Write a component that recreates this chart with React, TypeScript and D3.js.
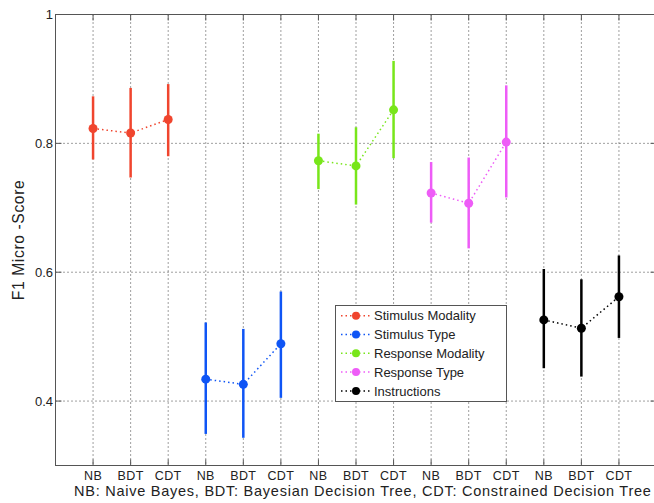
import React from "react";
import * as d3 from "d3";

const methods = ["NB", "BDT", "CDT"];
const seriesNames = ["Stimulus Modality", "Stimulus Type", "Response Modality", "Response Type", "Instructions"];
const seriesColors = ["#f0452e", "#0f55f5", "#78e61a", "#ee5cf7", "#000000"];
// mean, lower, upper for NB, BDT, CDT
const stimModMean = [0.823, 0.816, 0.837];
const stimModLow = [0.775, 0.747, 0.780];
const stimModHigh = [0.873, 0.886, 0.892];
const stimTypeMean = [0.434, 0.426, 0.489];
const stimTypeLow = [0.349, 0.343, 0.405];
const stimTypeHigh = [0.522, 0.512, 0.570];
const respModMean = [0.773, 0.765, 0.852];
const respModLow = [0.729, 0.705, 0.777];
const respModHigh = [0.815, 0.825, 0.928];
const respTypeMean = [0.723, 0.707, 0.802];
const respTypeLow = [0.677, 0.637, 0.716];
const respTypeHigh = [0.771, 0.778, 0.890];
const instrMean = [0.526, 0.513, 0.562];
const instrLow = [0.451, 0.438, 0.498];
const instrHigh = [0.605, 0.589, 0.626];
const yTicks = [0.4, 0.6, 0.8, 1];
const xLabel = "NB: Naive Bayes, BDT: Bayesian Decision Tree, CDT: Constrained Decision Tree";
const yLabel = "F1 Micro -Score";

const means = [stimModMean, stimTypeMean, respModMean, respTypeMean, instrMean];
const lows = [stimModLow, stimTypeLow, respModLow, respTypeLow, instrLow];
const highs = [stimModHigh, stimTypeHigh, respModHigh, respTypeHigh, instrHigh];

export default function App() {
  const W = 654, H = 503;
  const left = 55.5, right = 656.5, top = 14.5, bottom = 465.5;
  const x = d3.scaleLinear().domain([0, 16]).range([left, right]);
  const y = d3.scaleLinear().domain([0.3, 1]).range([bottom, top]);
  const xTicks = d3.range(1, 16);
  const font = "'Liberation Sans', Arial, Helvetica, sans-serif";
  const axisColor = "#555";
  const textColor = "#222";
  const line = d3.line<[number, number]>().x(d => x(d[0])).y(d => y(d[1]));

  return (
    <svg width={W} height={H} style={{ position: "absolute", left: 0, top: 0 }} fontFamily={font}>
      <rect x={0} y={0} width={W} height={H} fill="#fff" />
      {/* grid */}
      {xTicks.map(t => (
        <line key={"gx" + t} x1={x(t)} x2={x(t)} y1={top} y2={bottom} stroke="#000" strokeWidth={1} strokeDasharray="1,3" opacity={0.75} />
      ))}
      {yTicks.filter(t => t < 1).map(t => (
        <line key={"gy" + t} x1={left} x2={right} y1={y(t)} y2={y(t)} stroke="#000" strokeWidth={1} strokeDasharray="1,3" opacity={0.75} />
      ))}
      {/* axes box */}
      <rect x={left} y={top} width={right - left} height={bottom - top} fill="none" stroke={axisColor} strokeWidth={1} />
      {xTicks.map(t => (
        <g key={"tx" + t}>
          <line x1={x(t)} x2={x(t)} y1={bottom} y2={bottom - 6} stroke={axisColor} />
          <line x1={x(t)} x2={x(t)} y1={top} y2={top + 6} stroke={axisColor} />
          <text x={x(t)} y={479.5} textAnchor="middle" fontSize={12.5} letterSpacing={0.4} fill={textColor}>{methods[(t - 1) % 3]}</text>
        </g>
      ))}
      {yTicks.map(t => (
        <g key={"ty" + t}>
          <line x1={left} x2={left + 6} y1={y(t)} y2={y(t)} stroke={axisColor} />
          <line x1={right} x2={right - 6} y1={y(t)} y2={y(t)} stroke={axisColor} />
          <text x={53} y={y(t) + 4.5} textAnchor="end" fontSize={13} fill={textColor}>{t === 1 ? "1" : t.toFixed(1)}</text>
        </g>
      ))}
      <text x={74} y={496} textAnchor="start" fontSize={14.5} letterSpacing={0.75} fill={textColor}>{xLabel}</text>
      <text transform={`translate(23.5,${(top + bottom) / 2}) rotate(-90)`} textAnchor="middle" fontSize={15.7} letterSpacing={0.6} fill={textColor}>{yLabel}</text>
      {/* series */}
      {means.map((m, s) => {
        const pts: [number, number][] = m.map((v, i) => [s * 3 + i + 1, v]);
        const c = seriesColors[s];
        return (
          <g key={"s" + s}>
            <path d={line(pts) || ""} fill="none" stroke={c} strokeWidth={1.5} strokeDasharray="1.5,3" />
            {m.map((v, i) => (
              <line key={"e" + i} x1={x(s * 3 + i + 1)} x2={x(s * 3 + i + 1)} y1={y(lows[s][i])} y2={y(highs[s][i])} stroke={c} strokeWidth={2.5} />
            ))}
            {m.map((v, i) => (
              <circle key={"c" + i} cx={x(s * 3 + i + 1)} cy={y(v)} r={4.5} fill={c} />
            ))}
          </g>
        );
      })}
      {/* legend */}
      <g>
        <rect x={335.5} y={305.5} width={171} height={96} fill="#fff" stroke={axisColor} strokeWidth={1} />
        {seriesNames.map((n, i) => {
          const cy = 315.7 + i * 18.8;
          return (
            <g key={"l" + i}>
              <line x1={341} x2={372} y1={cy} y2={cy} stroke={seriesColors[i]} strokeWidth={1.5} strokeDasharray="1.5,3" />
              <circle cx={356} cy={cy} r={4} fill={seriesColors[i]} />
              <text x={374} y={cy + 4.7} fontSize={13} fill={textColor}>{n}</text>
            </g>
          );
        })}
      </g>
    </svg>
  );
}
